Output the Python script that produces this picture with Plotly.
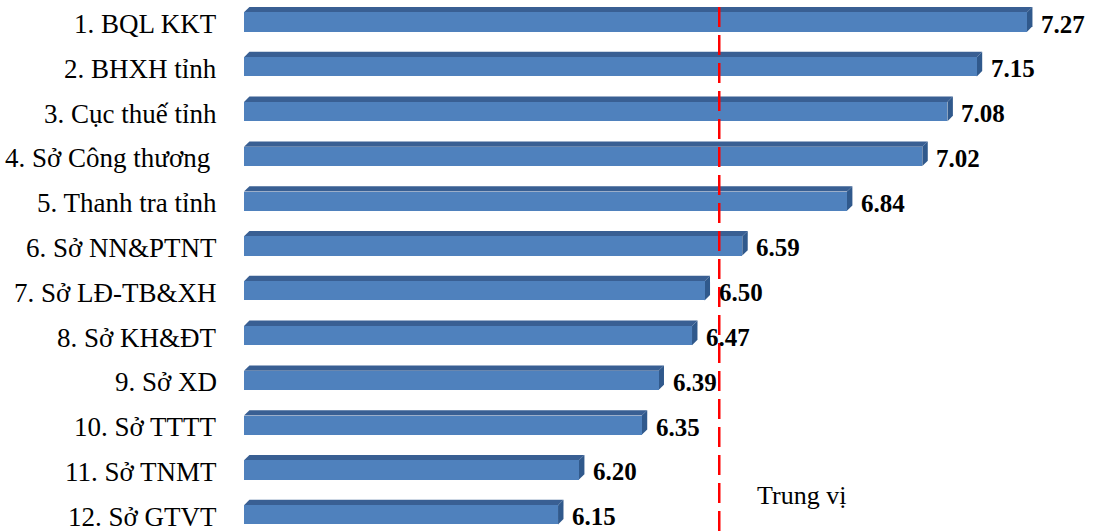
import plotly.graph_objects as go

# Agencies ranked by score, top to bottom
categories = [
    "1. BQL KKT",
    "2. BHXH tỉnh",
    "3. Cục thuế tỉnh",
    "4. Sở Công thương\u00a0",
    "5. Thanh tra tỉnh",
    "6. Sở NN&PTNT",
    "7. Sở LĐ-TB&XH",
    "8. Sở KH&ĐT",
    "9. Sở XD",
    "10. Sở TTTT",
    "11. Sở TNMT",
    "12. Sở GTVT",
]
scores = [7.27, 7.15, 7.08, 7.02, 6.84, 6.59, 6.50, 6.47, 6.39, 6.35, 6.20, 6.15]
score_labels = ["7.27", "7.15", "7.08", "7.02", "6.84", "6.59", "6.50", "6.47", "6.39", "6.35", "6.20", "6.15"]

median_line = 6.535
median_label = "Trung vị"

AXIS_MIN = 5.4
AXIS_MAX = 7.43
Y_TOP = -0.491
Y_BOTTOM = 11.362

FRONT = "#4F81BD"
TOP = "#395F93"
SIDE = "#30598C"
SERIF = "Liberation Serif"

BAR_W = 0.43      # front face height, in row units
DEPTH_X = 0.013   # oblique depth along x, data units
DEPTH_Y = 0.12    # oblique depth along y, row units

rows = list(range(len(categories)))

fig = go.Figure()
fig.add_trace(go.Bar(
    y=rows,
    x=[v - AXIS_MIN for v in scores],
    base=AXIS_MIN,
    orientation="h",
    width=BAR_W,
    marker=dict(color=FRONT, line=dict(width=0)),
    hoverinfo="skip",
))

shapes = []
annotations = []
for i, v in zip(rows, scores):
    top = i - BAR_W / 2
    bot = i + BAR_W / 2
    # top face
    shapes.append(dict(
        type="path", xref="x", yref="y", layer="below",
        path=(f"M {AXIS_MIN},{top} L {AXIS_MIN + DEPTH_X},{top - DEPTH_Y} "
              f"L {v + DEPTH_X},{top - DEPTH_Y} L {v},{top} Z"),
        fillcolor=TOP, line=dict(width=0),
    ))
    # right side face
    shapes.append(dict(
        type="path", xref="x", yref="y", layer="below",
        path=(f"M {v},{top} L {v + DEPTH_X},{top - DEPTH_Y} "
              f"L {v + DEPTH_X},{bot - DEPTH_Y} L {v},{bot} Z"),
        fillcolor=SIDE, line=dict(width=0),
    ))

for i, (cat, lab, v) in enumerate(zip(categories, score_labels, scores)):
    annotations.append(dict(
        x=0, xref="paper", y=i, yref="y", text=cat, showarrow=False,
        xanchor="right", yanchor="middle", xshift=-26, yshift=-2,
        borderpad=0,
        font=dict(family=SERIF, size=27, color="black"),
    ))
    annotations.append(dict(
        x=v, xref="x", y=i, yref="y", text=f"<b>{lab}</b>", showarrow=False,
        xanchor="left", yanchor="middle", xshift=13, yshift=-2,
        borderpad=0,
        font=dict(family=SERIF, size=25, color="black"),
    ))

# median reference line
shapes.append(dict(
    type="line", xref="x", yref="paper", x0=median_line, x1=median_line,
    y0=0, y1=1, layer="above",
    line=dict(color="#FF0000", width=2.5, dash="20px,8px"),
))
annotations.append(dict(
    x=median_line, xref="x", y=10.56, yref="y", text=median_label,
    showarrow=False, xanchor="left", yanchor="middle", xshift=36,
    font=dict(family=SERIF, size=26, color="black"),
))

fig.update_layout(
    width=1094, height=531,
    margin=dict(l=244, r=0, t=0, b=0),
    plot_bgcolor="white", paper_bgcolor="white",
    showlegend=False,
    bargap=0,
    shapes=shapes,
    annotations=annotations,
    xaxis=dict(range=[AXIS_MIN, AXIS_MAX], visible=False),
    yaxis=dict(range=[Y_BOTTOM, Y_TOP], visible=False),
)

fig.write_html("out.html")
